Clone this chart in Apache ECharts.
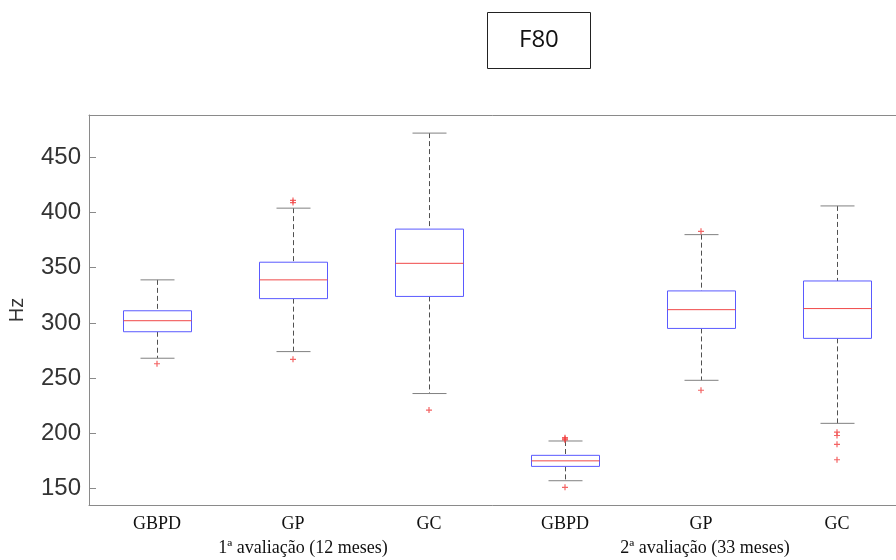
<!DOCTYPE html>
<html>
<head>
<meta charset="utf-8">
<script src="https://cdn.jsdelivr.net/npm/echarts@6/dist/echarts.min.js"></script>
<style>
  html, body { margin: 0; padding: 0; background: #fff; }
  #main { width: 896px; height: 560px; }
</style>
</head>
<body>
<div id="main"></div>
<script>
// grupos (1ª e 2ª avaliação)
var categories = ['GBPD', 'GP', 'GC', 'GBPD', 'GP', 'GC'];
var groupLabels = ['', '1ª avaliação (12 meses)', '', '', '2ª avaliação (33 meses)', ''];

// estatísticas dos boxplots (Hz)
var lowerWhisker = [268, 274, 236, 157, 248, 209];
var q1 = [292, 322, 324, 170, 295, 286];
var medians = [302, 339, 354, 175, 312, 313];
var q3 = [311, 355, 385, 180, 329, 338];
var upperWhisker = [339, 404, 472, 193, 380, 406];

// outliers por grupo
var outliers = [
    [263],
    [411, 409, 267],
    [221],
    [196, 195, 194, 151],
    [383, 239],
    [201, 198, 190, 176]
];

var yTicks = [150, 200, 250, 300, 350, 400, 450];

var boxData = categories.map(function (c, i) {
    return [i, lowerWhisker[i], q1[i], medians[i], q3[i], upperWhisker[i]];
});
var outlierData = [];
outliers.forEach(function (list, i) {
    list.forEach(function (v) { outlierData.push([i, v]); });
});

function renderBox(params, api) {
    var i = api.value(0);
    var lo = api.coord([i, api.value(1)]);
    var b1 = api.coord([i, api.value(2)]);
    var md = api.coord([i, api.value(3)]);
    var b3 = api.coord([i, api.value(4)]);
    var hi = api.coord([i, api.value(5)]);
    var bw = api.size([1, 0])[0] * 0.5;
    var cw = bw * 0.5;
    var x = Math.round(lo[0]) + 0.5;
    var dash = { stroke: '#505050', lineWidth: 1, lineDash: [5, 3] };
    var cap = { stroke: '#808080', lineWidth: 1 };
    return {
        type: 'group',
        children: [
            { type: 'line', shape: { x1: x, y1: hi[1], x2: x, y2: b3[1] }, style: dash },
            { type: 'line', shape: { x1: x, y1: b1[1], x2: x, y2: lo[1] }, style: dash },
            { type: 'line', shape: { x1: x - cw / 2, y1: hi[1], x2: x + cw / 2, y2: hi[1] }, style: cap },
            { type: 'line', shape: { x1: x - cw / 2, y1: lo[1], x2: x + cw / 2, y2: lo[1] }, style: cap },
            { type: 'rect', shape: { x: x - bw / 2, y: b3[1], width: bw, height: b1[1] - b3[1] },
              style: { fill: '#fff', stroke: '#5a5aff', lineWidth: 1 } },
            { type: 'line', shape: { x1: x - bw / 2, y1: md[1], x2: x + bw / 2, y2: md[1] },
              style: { stroke: '#f04848', lineWidth: 1 } }
        ]
    };
}

var axisGray = '#8a8a8a';
var chart = echarts.init(document.getElementById('main'));

var option = {
    animation: false,
    title: {
        text: 'F80',
        left: 487,
        top: 12,
        padding: [13, 32],
        borderColor: '#222',
        borderWidth: 1,
        textStyle: { fontFamily: 'Open Sans', fontSize: 24, fontWeight: 'normal', color: '#111', lineHeight: 31 }
    },
    grid: { left: 89, top: 115, width: 816, height: 390, outerBoundsMode: 'none', containLabel: false },
    xAxis: [{
        type: 'category',
        data: categories,
        position: 'bottom',
        axisLine: { lineStyle: { color: axisGray } },
        axisTick: { inside: true, alignWithLabel: true, interval: 0, length: 7, lineStyle: { color: axisGray } },
        splitLine: { show: false },
        axisLabel: {
            interval: 0,
            hideOverlap: false,
            margin: 7,
            fontFamily: 'Liberation Serif',
            fontSize: 18,
            color: '#111',
            lineHeight: 24,
            formatter: function (v, i) {
                if (!groupLabels[i]) return v;
                return v + '\n{' + (i < 3 ? 's1' : 's2') + '|' + groupLabels[i] + '}';
            },
            rich: {
                s1: { fontFamily: 'Liberation Serif', fontSize: 18, color: '#111', lineHeight: 24, padding: [0, 0, 0, 20] },
                s2: { fontFamily: 'Liberation Serif', fontSize: 18, color: '#111', lineHeight: 24, padding: [0, 0, 0, 8] }
            }
        }
    }, {
        type: 'category',
        data: categories,
        position: 'top',
        axisLine: { lineStyle: { color: axisGray } },
        axisTick: { inside: true, alignWithLabel: true, interval: 0, length: 7, lineStyle: { color: axisGray } },
        axisLabel: { show: false },
        splitLine: { show: false }
    }],
    yAxis: [{
        type: 'value',
        min: 135,
        max: 488.4,
        splitNumber: 7,
        name: 'Hz',
        nameLocation: 'middle',
        nameRotate: 90,
        nameGap: 62,
        nameTextStyle: { fontFamily: 'Liberation Sans', fontSize: 20, color: '#333' },
        axisLine: { show: true, lineStyle: { color: axisGray } },
        axisTick: { show: true, inside: true, length: 7, lineStyle: { color: axisGray } },
        splitLine: { show: false },
        axisLabel: {
            margin: 8,
            fontFamily: 'Liberation Sans',
            fontSize: 24,
            color: '#333',
            showMinLabel: false,
            showMaxLabel: false,
            formatter: function (v) { return yTicks.indexOf(v) >= 0 ? String(v) : ''; }
        }
    }, {
        type: 'value',
        position: 'right',
        min: 135,
        max: 488.4,
        splitNumber: 7,
        axisLine: { show: true, lineStyle: { color: axisGray } },
        axisTick: { show: true, inside: true, length: 7, lineStyle: { color: axisGray } },
        axisLabel: { show: false },
        splitLine: { show: false }
    }],
    series: [{
        type: 'custom',
        renderItem: renderBox,
        data: boxData,
        encode: { x: 0, y: [1, 2, 3, 4, 5] },
        z: 3
    }, {
        type: 'scatter',
        data: outlierData,
        symbol: 'path://M4,0H6V4H10V6H6V10H4V6H0V4H4Z',
        symbolSize: 6,
        itemStyle: { color: '#f03c3c' },
        z: 4
    }]
};

chart.setOption(option);
</script>
</body>
</html>
